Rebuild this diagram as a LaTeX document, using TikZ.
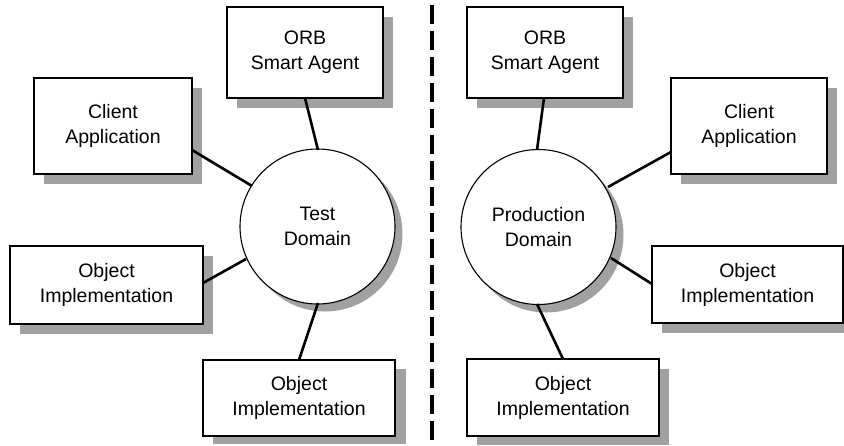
\documentclass[tikz,border=0pt]{standalone}
\usepackage{fontspec}
\setmainfont{Liberation Sans}
\begin{document}
\begin{tikzpicture}[x=1pt,y=-1pt,
  box/.style={draw=black,line width=1.6pt,fill=white,minimum width=#1,inner sep=0pt,
    font=\fontsize{19.5}{25}\selectfont,align=center},
  box/.default={156pt},
  dom/.style={circle,draw=black,line width=1.1pt,fill=white,minimum size=155pt,inner sep=0pt,
    font=\fontsize{19.5}{25}\selectfont,align=center},
  link/.style={line width=2.6pt,black},
  shade/.style={fill=black!37}]
\useasboundingbox (0,0) rectangle (844,445);
\fill[white] (0,0) rectangle (844,445);
% shadows
\fill[shade] (237,17) rectangle (393,108);
\fill[shade] (44,88) rectangle (202,184);
\fill[shade] (20,256) rectangle (213,334);
\fill[shade] (213,369) rectangle (406,444);
\fill[shade] (477,17) rectangle (633,108);
\fill[shade] (681,88) rectangle (837,184);
\fill[shade] (662,256) rectangle (844,333);
\fill[shade] (477,369) rectangle (669,445);
\fill[shade] (325,234) circle (77.5);
\fill[shade] (546,235) circle (77.5);
% boxes
\node[box, minimum height=91pt] (orbL) at (305,52.5) {ORB\\Smart Agent};
\node[box=158pt, minimum height=96pt] (cliL) at (113,126) {Client\\Application};
\node[box=193pt, minimum height=78pt] (objL) at (106.5,285) {Object\\Implementation};
\node[box=192pt, minimum height=76pt] (objLB) at (299,398) {Object\\Implementation};
\node[box, minimum height=91pt] (orbR) at (545,52.5) {ORB\\Smart Agent};
\node[box, minimum height=96pt] (cliR) at (749,126) {Client\\Application};
\node[box=191pt, minimum height=77pt] (objR) at (747.5,284.5) {Object\\Implementation};
\node[box=192pt, minimum height=77pt] (objRB) at (563,397.5) {Object\\Implementation};
% domains
\node[dom] (testD) at (317.5,226.5) {Test\\Domain};
\node[dom] (prodD) at (538.5,227) {Production\\Domain};
% connectors
\coordinate (a1) at (305,98);   \coordinate (a2) at (318,150);
\coordinate (b1) at (192,150);  \coordinate (b2) at (252,186);
\coordinate (c1) at (203,283);  \coordinate (c2) at (246,259);
\coordinate (d1) at (299,360);  \coordinate (d2) at (318,303);
\coordinate (e1) at (544,98);   \coordinate (e2) at (537,150);
\coordinate (f1) at (671,152);  \coordinate (f2) at (608,187);
\coordinate (g1) at (652,284);  \coordinate (g2) at (611,258);
\coordinate (h1) at (563,359);  \coordinate (h2) at (537,304);
\draw[link] (a1) -- (a2);
\draw[link] (b1) -- (b2);
\draw[link] (c1) -- (c2);
\draw[link] (d1) -- (d2);
\draw[link] (e1) -- (e2);
\draw[link] (f1) -- (f2);
\draw[link] (g1) -- (g2);
\draw[link] (h1) -- (h2);
% divider
\coordinate (divT) at (432,5);
\coordinate (divB) at (432,445);
\draw[line width=4pt, dash pattern=on 19pt off 7pt] (divT) -- (divB);
\end{tikzpicture}
\end{document}
